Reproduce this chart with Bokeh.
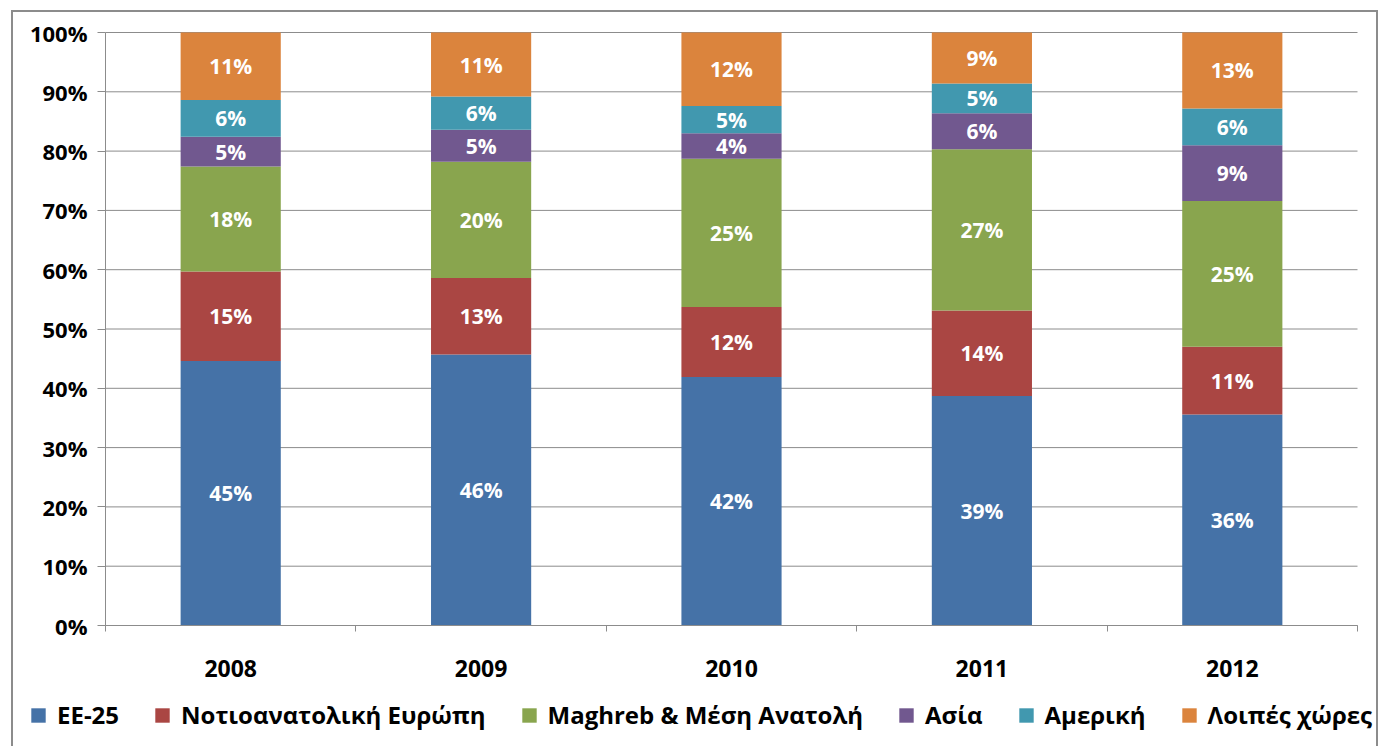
from bokeh.plotting import figure
from bokeh.layouts import column
from bokeh.models import (ColumnDataSource, Range1d, FixedTicker,
                          PrintfTickFormatter, Legend, LegendItem, InlineStyleSheet)
from bokeh.core.properties import value
from bokeh.embed import file_html
from bokeh.resources import INLINE

years = ["2008", "2009", "2010", "2011", "2012"]
series = ["ΕΕ-25", "Νοτιοανατολική Ευρώπη", "Maghreb & Μέση Ανατολή", "Ασία", "Αμερική", "Λοιπές χώρες"]
ee25 = [44.6, 45.7, 41.9, 38.7, 35.6]
se_europe = [15.1, 12.9, 11.8, 14.4, 11.4]
maghreb = [17.7, 19.6, 25.0, 27.2, 24.6]
asia = [5.0, 5.4, 4.3, 6.1, 9.4]
america = [6.2, 5.6, 4.6, 5.0, 6.2]
others = [11.4, 10.8, 12.4, 8.6, 12.8]
colors = ["#4572A7", "#AA4643", "#89A54E", "#71588F", "#4198AF", "#DB843D"]
y_ticks = [0, 10, 20, 30, 40, 50, 60, 70, 80, 90, 100]

FONT = value("Open Sans")
keys = ["s0", "s1", "s2", "s3", "s4", "s5"]
all_series = [ee25, se_europe, maghreb, asia, america, others]
n = len(years)
slot = [i + 0.5 for i in range(n)]   # centre of each year's slot
data = {"x": slot}
for k, s in zip(keys, all_series):
    data[k] = s
source = ColumnDataSource(data)

# The frame covers the whole canvas (so the legend below the axis is not clipped);
# the axes sit at fixed locations: plot area 105..1357 px wide, 32..625 px tall.
W, H = 1391, 746
px_x = (1357 - 105) / n
px_y = (625 - 32) / 100.0
x_range = Range1d(-105 / px_x, (W - 105) / px_x)
y_range = Range1d(-(H - 625) / px_y, 100 + 32 / px_y)

p = figure(x_range=x_range, y_range=y_range, width=W, height=H,
           output_backend="svg", toolbar_location=None, min_border=0,
           min_border_left=0, min_border_right=0, min_border_top=0, min_border_bottom=0)
p.outline_line_color = None
p.background_fill_color = "white"
p.border_fill_color = "white"
p.xgrid.grid_line_color = None
p.ygrid.grid_line_color = None

# horizontal gridlines limited to the plot area (drawn first, behind the bars)
p.segment(x0=[0] * len(y_ticks), x1=[n] * len(y_ticks), y0=y_ticks, y1=y_ticks,
          line_color="#8c8c8c", line_width=1)

renderers = p.vbar_stack(keys, x="x", width=0.4, color=colors, source=source, line_color=None)

# data labels
lx, ly, lt = [], [], []
for i in range(n):
    base = 0.0
    for s in all_series:
        v = s[i]
        lx.append(slot[i])
        ly.append(base + v / 2.0)
        lt.append(f"{round(v)}%")
        base += v
p.text(x=lx, y=ly, text=lt, text_align="center", text_baseline="middle",
       text_color="white", text_font=FONT, text_font_style="bold", text_font_size="21px")

# y axis
yax = p.yaxis[0]
yax.fixed_location = 0
yax.bounds = (0, 100)
yax.ticker = FixedTicker(ticks=y_ticks)
yax.formatter = PrintfTickFormatter(format="%d%%")
yax.major_label_text_font = "Open Sans"
yax.major_label_text_font_style = "bold"
yax.major_label_text_font_size = "22px"
yax.major_label_text_color = "black"
yax.major_tick_out = 8
yax.major_tick_in = 0
yax.minor_tick_line_color = None
yax.axis_line_color = "#8c8c8c"
yax.major_tick_line_color = "#8c8c8c"
yax.major_label_standoff = 10

# x axis: ticks at slot boundaries, year labels at slot centres
xax = p.xaxis[0]
xax.fixed_location = 0
xax.bounds = (0, n)
xax.ticker = FixedTicker(ticks=slot, minor_ticks=list(range(n + 1)))
xax.major_label_overrides = {c: y for c, y in zip(slot, years)}
xax.major_tick_line_color = None
xax.major_tick_out = 0
xax.major_tick_in = 0
xax.minor_tick_out = 6
xax.minor_tick_in = 0
xax.minor_tick_line_color = "#8c8c8c"
xax.axis_line_color = "#8c8c8c"
xax.major_label_text_font = "Open Sans"
xax.major_label_text_font_style = "bold"
xax.major_label_text_font_size = "23px"
xax.major_label_text_color = "black"
xax.major_label_standoff = 28

legend = Legend(items=[LegendItem(label=nm, renderers=[r]) for nm, r in zip(series, renderers)],
                orientation="horizontal", location=(29, 15))
legend.label_text_font = "Open Sans"
legend.label_text_font_style = "bold"
legend.label_text_font_size = "24px"
legend.label_text_color = "black"
legend.glyph_width = 18
legend.glyph_height = 18
legend.label_standoff = 10
legend.spacing = 34
legend.padding = 0
legend.margin = 0
legend.border_line_color = None
legend.background_fill_alpha = 0
p.add_layout(legend, "center")

layout = column(p, spacing=0)
layout.stylesheets.append(InlineStyleSheet(css=(
    ":host { position: relative; } "
    ":host::after { content: ''; position: absolute; left: 11px; top: 10px; right: 13px; bottom: 0px; "
    "border: 2px solid #8c8c8c; border-bottom: none; pointer-events: none; z-index: 100; }")))

open("out.html", "w").write(file_html(layout, INLINE))
